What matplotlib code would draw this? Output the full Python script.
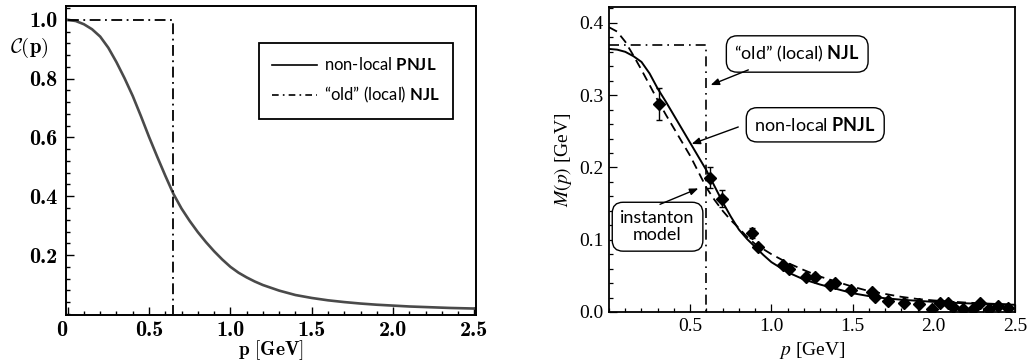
import os
import numpy as np
import matplotlib
matplotlib.use("Agg")
import matplotlib.pyplot as plt
from matplotlib.font_manager import FontProperties
from matplotlib.lines import Line2D
from matplotlib.ticker import MultipleLocator

plt.rcParams['mathtext.fontset'] = 'custom'
plt.rcParams['mathtext.rm'] = 'Lato'
plt.rcParams['mathtext.bf'] = 'Lato:bold'
plt.rcParams['mathtext.it'] = 'Lato:italic'

# ---------------- data ----------------
# left panel: C(p)
p_left = [0.0, 0.05, 0.1, 0.15, 0.2, 0.25, 0.3, 0.35, 0.4, 0.45, 0.5, 0.55, 0.6,
          0.65, 0.7, 0.75, 0.8, 0.85, 0.9, 0.95, 1.0, 1.05, 1.1, 1.15, 1.2, 1.3,
          1.4, 1.5, 1.6, 1.7, 1.8, 1.9, 2.0, 2.1, 2.2, 2.35, 2.5]
c_nonlocal = [1.0, 0.996, 0.985, 0.968, 0.943, 0.905, 0.856, 0.801, 0.741, 0.673, 0.602,
              0.535, 0.470, 0.408, 0.358, 0.316, 0.278, 0.244, 0.213, 0.185, 0.160,
              0.140, 0.124, 0.110, 0.098, 0.079, 0.064, 0.054, 0.046, 0.040, 0.035,
              0.031, 0.028, 0.025, 0.023, 0.020, 0.018]
njl_left_p = [0.0, 0.65, 0.65]
njl_left_c = [1.0, 1.0, 0.0]

# right panel: M(p)
p_solid = [0.0, 0.05, 0.1, 0.15, 0.2, 0.25, 0.3, 0.35, 0.4, 0.45, 0.5, 0.55, 0.6, 0.65,
           0.7, 0.75, 0.8, 0.85, 0.9, 0.95, 1.0, 1.1, 1.2, 1.3, 1.4, 1.5, 1.6, 1.7,
           1.8, 2.0, 2.2, 2.5]
m_pnjl = [0.364, 0.363, 0.360, 0.354, 0.346, 0.330, 0.309, 0.291, 0.272, 0.253, 0.234,
          0.215, 0.196, 0.174, 0.152, 0.132, 0.114, 0.101, 0.090, 0.079, 0.069, 0.055,
          0.045, 0.038, 0.032, 0.026, 0.022, 0.019, 0.017, 0.014, 0.012, 0.010]
p_dash = [0.0, 0.05, 0.1, 0.15, 0.2, 0.25, 0.3, 0.35, 0.4, 0.45, 0.5, 0.55, 0.6, 0.65,
          0.7, 0.75, 0.8, 0.85, 0.9, 0.95, 1.0, 1.1, 1.2, 1.3, 1.4, 1.5, 1.6, 1.7,
          1.8, 1.9, 2.0, 2.2, 2.5]
m_instanton = [0.394, 0.388, 0.374, 0.355, 0.335, 0.314, 0.293, 0.273, 0.254, 0.235,
               0.216, 0.194, 0.172, 0.155, 0.140, 0.127, 0.116, 0.104, 0.094, 0.087,
               0.080, 0.068, 0.058, 0.049, 0.042, 0.035, 0.029, 0.025, 0.021, 0.018,
               0.016, 0.013, 0.010]
njl_right_p = [0.0, 0.6, 0.6]
njl_right_m = [0.37, 0.37, 0.0]

lat_p = [0.31, 0.622, 0.694, 0.879, 0.92, 1.073, 1.11, 1.213, 1.268, 1.361, 1.392,
         1.49, 1.617, 1.638, 1.716, 1.818, 1.911, 1.987, 2.038, 2.09, 2.12, 2.18,
         2.243, 2.285, 2.34, 2.397, 2.459]
lat_m = [0.288, 0.186, 0.157, 0.109, 0.0895, 0.065, 0.060, 0.049, 0.049, 0.037, 0.040,
         0.031, 0.028, 0.021, 0.0157, 0.012, 0.0111, 0.004, 0.012, 0.012, 0.0065, 0.004,
         0.004, 0.012, 0.004, 0.0077, 0.0055]
lat_err = [0.022, 0.015, 0.012, 0.007, 0.003, 0.003, 0.003, 0.003, 0.003, 0.003, 0.003,
           0.003, 0.003, 0.003, 0.003, 0.003, 0.003, 0.003, 0.003, 0.003, 0.003, 0.003,
           0.003, 0.003, 0.003, 0.003, 0.003]

xticks_left = [0, 0.5, 1.0, 1.5, 2.0, 2.5]
xticklabels_left = ['0', '0.5', '1.0', '1.5', '2.0', '2.5']
yticks_left = [0.2, 0.4, 0.6, 0.8, 1.0]
yticklabels_left = ['0.2', '0.4', '0.6', '0.8', '1.0']
xticks_right = [0.5, 1.0, 1.5, 2.0, 2.5]
xticklabels_right = ['0.5', '1.0', '1.5', '2.0', '2.5']
yticks_right = [0.0, 0.1, 0.2, 0.3, 0.4]
yticklabels_right = ['0.0', '0.1', '0.2', '0.3', '0.4']

# ---------------- figure ----------------
fig = plt.figure(figsize=(10.27, 3.63), dpi=100)

cmb = os.path.join(matplotlib.get_data_path(), 'fonts', 'ttf', 'cmb10.ttf')
fp_cmb = FontProperties(fname=cmb, size=16)

# ---- left ----
axL = fig.add_axes([0.0643, 0.1322, 0.3992, 0.8512])
axL.plot(p_left, c_nonlocal, color='#4a4a4a', lw=1.9, solid_joinstyle='round')
axL.plot(njl_left_p, njl_left_c, color='black', lw=1.3, ls=(0, (6, 2.5, 1, 2.5)))
axL.set_xlim(-0.01, 2.51)
axL.set_ylim(-0.004, 1.047)
axL.set_xticks(xticks_left)
axL.set_xticklabels(xticklabels_left, fontproperties=fp_cmb)
axL.set_yticks(yticks_left)
axL.set_yticklabels(yticklabels_left, fontproperties=fp_cmb)
axL.get_xticklabels()[0].set_horizontalalignment('right')
axL.xaxis.set_minor_locator(MultipleLocator(0.1))
axL.yaxis.set_minor_locator(MultipleLocator(0.04))
axL.tick_params(which='both', direction='in', top=False, right=False, width=1.0)
axL.tick_params(which='major', length=6)
axL.tick_params(axis='x', which='major', pad=4)
axL.tick_params(axis='y', which='major', pad=6)
axL.tick_params(which='minor', length=3)
for s in axL.spines.values():
    s.set_linewidth(1.4)
axL.set_xlabel(r'$\mathbf{p\ [GeV]}$', fontsize=14, math_fontfamily='cm', labelpad=-1)
fig.text(29 / 1027, 1 - 48 / 363, r'$\mathcal{C}(\mathbf{p})$', fontsize=15,
         math_fontfamily='cm', ha='center', va='center')

leg_fp = FontProperties(family='Lato', size=12, math_fontfamily='custom')
handles = [Line2D([], [], color='black', lw=1.2),
           Line2D([], [], color='black', lw=1.2, ls=(0, (4, 2.5, 1, 2.5)))]
labels = [r'non-local $\mathbf{PNJL}$', r'“old” (local) $\mathbf{NJL}$']
leg = axL.legend(handles, labels, loc='upper right', bbox_to_anchor=(0.944, 0.880),
                 prop=leg_fp, frameon=True, fancybox=False, edgecolor='black',
                 framealpha=1, handlelength=2.7, handletextpad=0.4,
                 borderpad=0.8, labelspacing=0.7, borderaxespad=0)
leg.get_frame().set_linewidth(1.3)

# ---- right ----
axR = fig.add_axes([0.593, 0.1405, 0.3953, 0.8402])
axR.plot(p_solid, m_pnjl, color='black', lw=1.4, solid_joinstyle='round')
axR.plot(p_dash, m_instanton, color='black', lw=1.3, ls=(0, (5, 3)))
axR.plot(njl_right_p, njl_right_m, color='black', lw=1.2, ls=(0, (6, 3, 1, 3)))
axR.errorbar(lat_p, lat_m, yerr=lat_err, fmt='D', color='black', ms=6.5,
             elinewidth=1.0, capsize=2.5, capthick=1.0)
axR.set_xlim(0, 2.5)
axR.set_ylim(0, 0.422)
axR.set_xticks(xticks_right)
axR.set_xticklabels(xticklabels_right, family='Liberation Serif', fontsize=14)
axR.set_yticks(yticks_right)
axR.set_yticklabels(yticklabels_right, family='Liberation Serif', fontsize=14)
axR.xaxis.set_minor_locator(MultipleLocator(0.1))
axR.yaxis.set_minor_locator(MultipleLocator(0.02))
axR.tick_params(which='both', direction='in', top=False, right=False, width=0.9)
axR.tick_params(which='major', length=6, pad=4)
axR.tick_params(which='minor', length=3)
for s in axR.spines.values():
    s.set_linewidth(1.3)
axR.set_xlabel(r'$p$ [GeV]', family='Liberation Serif', fontsize=14,
               math_fontfamily='stix', labelpad=4)
axR.set_ylabel(r'$M(p)$ [GeV]', family='Liberation Serif', fontsize=14,
               math_fontfamily='stix', labelpad=4)

box = dict(boxstyle='round,pad=0.45,rounding_size=0.6', fc='white', ec='black', lw=1.0)
ann_fp = dict(family='Lato', fontsize=13, math_fontfamily='custom')
axR.text(1.159, 0.357, r'“old” (local) $\mathbf{NJL}$', ha='center', va='center',
         bbox=box, **ann_fp)
axR.text(1.270, 0.259, r'non-local $\mathbf{PNJL}$', ha='center', va='center',
         bbox=box, **ann_fp)
axR.text(0.299, 0.118, 'instanton\nmodel', ha='center', va='center',
         linespacing=1.05, bbox=box, **ann_fp)
arrow = dict(arrowstyle='-|>,head_length=0.5,head_width=0.2', color='black', lw=1.0,
             shrinkA=0, shrinkB=0)
axR.annotate('', xy=(0.626, 0.314), xytext=(0.858, 0.335), arrowprops=arrow)
axR.annotate('', xy=(0.509, 0.2325), xytext=(0.796, 0.256), arrowprops=arrow)
axR.annotate('', xy=(0.55, 0.171), xytext=(0.314, 0.149), arrowprops=arrow)

fig.savefig('out.png', dpi=100)
